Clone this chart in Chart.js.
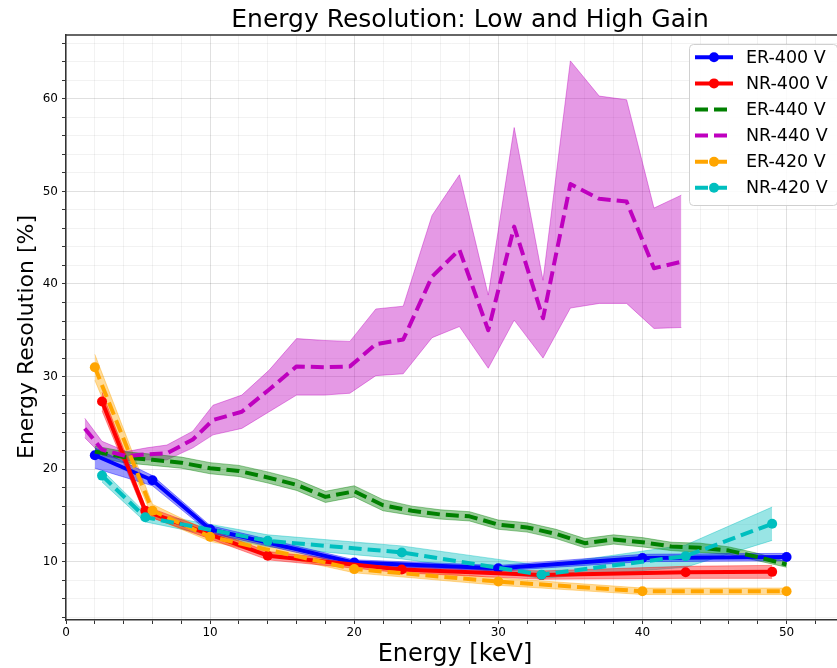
<!DOCTYPE html>
<html>
<head>
<meta charset="utf-8">
<script src="https://cdn.jsdelivr.net/npm/chart.js@4.4.1/dist/chart.umd.min.js"></script>
<style>
  html, body { margin: 0; padding: 0; background: #fff; }
  #wrap { width: 837px; height: 668px; }
</style>
</head>
<body>
<div id="wrap"><canvas id="chart" width="837" height="668"></canvas></div>
<script>
// energies (keV) for each series
const erX = [2, 6, 10, 20, 30, 40, 50];
const nrX = [2.5, 5.5, 14, 23.3, 33, 43, 49];
const er440X = [2, 4, 6, 8, 10, 12, 14, 16, 18, 20, 22, 24, 26, 28, 30, 32, 34, 36, 38, 40, 42, 44, 46, 48, 50];
const nr440X = [1.3, 2.5, 4.2, 5.6, 7.0, 8.8, 10.2, 12.2, 14.1, 16.0, 17.9, 19.7, 21.5, 23.4, 25.4, 27.3, 29.3, 31.1, 33.1, 35.0, 37.0, 38.9, 40.8, 42.7];

// resolution [%] and band edges
const er400 = [21.5, 18.8, 13.5, 9.9, 9.3, 10.4, 10.5];
const er400Lo = [20.1, 18.2, 13.1, 9.6, 9.0, 10.0, 10.1];
const er400Hi = [22.3, 19.3, 13.9, 10.2, 9.6, 10.8, 10.9];

const nr400 = [27.3, 15.5, 10.65, 9.15, 8.55, 8.85, 8.9];
const nr400Lo = [26.3, 15.0, 10.2, 8.8, 8.1, 8.2, 8.2];
const nr400Hi = [28.3, 16.0, 11.1, 9.5, 9.0, 9.5, 9.6];

const er440 = [21.9, 21.3, 21.0, 20.7, 20.1, 19.8, 19.1, 18.3, 17.0, 17.6, 16.1, 15.5, 15.1, 14.9, 14.0, 13.7, 13.0, 12.0, 12.4, 12.1, 11.65, 11.5, 11.2, 10.5, 9.7];
const er440Lo = [21.3, 20.7, 20.4, 20.1, 19.5, 19.2, 18.5, 17.7, 16.4, 17.0, 15.5, 15.0, 14.6, 14.4, 13.5, 13.2, 12.5, 11.5, 11.9, 11.6, 11.2, 11.0, 10.8, 10.1, 9.4];
const er440Hi = [22.5, 21.9, 21.6, 21.3, 20.7, 20.4, 19.7, 18.9, 17.6, 18.2, 16.7, 16.0, 15.6, 15.4, 14.5, 14.2, 13.5, 12.5, 12.9, 12.6, 12.1, 12.0, 11.6, 10.9, 10.0];

const nr440 = [24.4, 22.1, 21.4, 21.6, 21.7, 23.2, 25.3, 26.2, 28.6, 31.1, 31.0, 31.1, 33.5, 34.0, 40.8, 43.7, 35.0, 46.2, 36.3, 50.8, 49.2, 48.9, 41.7, 42.4];
const nr440Lo = [23.4, 21.5, 20.9, 21.0, 21.0, 22.3, 23.7, 24.4, 26.2, 28.0, 28.0, 28.2, 30.1, 30.3, 34.2, 35.4, 30.9, 36.1, 32.0, 37.4, 37.9, 37.9, 35.2, 35.3];
const nr440Hi = [25.5, 23.0, 21.9, 22.3, 22.6, 24.1, 26.9, 28.0, 30.7, 34.1, 33.9, 33.8, 37.3, 37.6, 47.4, 51.8, 38.8, 56.9, 40.4, 64.1, 60.3, 59.9, 48.2, 49.6];

const er420 = [31.0, 15.5, 12.7, 9.2, 7.85, 6.8, 6.8];
const er420Lo = [29.6, 14.8, 12.2, 8.8, 7.45, 6.45, 6.45];
const er420Hi = [32.4, 16.2, 13.2, 9.6, 8.25, 7.15, 7.15];

const nr420 = [19.3, 14.8, 12.25, 11.0, 8.6, 10.6, 14.1];
const nr420Lo = [18.6, 14.3, 11.6, 10.3, 8.2, 9.4, 12.3];
const nr420Hi = [19.9, 15.3, 12.9, 11.7, 9.6, 11.8, 15.9];

const xTicks = [0, 10, 20, 30, 40, 50];
const yTicks = [10, 20, 30, 40, 50, 60];

const FONT = "'DejaVu Sans', 'Liberation Sans', sans-serif";

const series = [
  { label: "ER-400 V", x: erX, y: er400, lo: er400Lo, hi: er400Hi, rgb: [0, 0, 255], dash: [], marker: true },
  { label: "NR-400 V", x: nrX, y: nr400, lo: nr400Lo, hi: nr400Hi, rgb: [255, 0, 0], dash: [], marker: true },
  { label: "ER-440 V", x: er440X, y: er440, lo: er440Lo, hi: er440Hi, rgb: [0, 128, 0], dash: [13, 6], marker: false },
  { label: "NR-440 V", x: nr440X, y: nr440, lo: nr440Lo, hi: nr440Hi, rgb: [191, 0, 191], dash: [13, 6], marker: false },
  { label: "ER-420 V", x: erX, y: er420, lo: er420Lo, hi: er420Hi, rgb: [255, 165, 0], dash: [13, 6], marker: true },
  { label: "NR-420 V", x: nrX, y: nr420, lo: nr420Lo, hi: nr420Hi, rgb: [0, 191, 191], dash: [13, 6], marker: true },
];

function pts(xs, ys) {
  return xs.map((x, i) => ({ x: x, y: ys[i] }));
}
function rgba(c, a) {
  return "rgba(" + c[0] + "," + c[1] + "," + c[2] + "," + a + ")";
}

const datasets = [];
series.forEach((s, k) => {
  const loIdx = datasets.length;
  datasets.push({
    data: pts(s.x, s.lo), borderColor: rgba(s.rgb, 0.4), borderWidth: 1,
    pointRadius: 0, fill: false, order: 20 + k, tension: 0,
  });
  datasets.push({
    data: pts(s.x, s.hi), borderColor: rgba(s.rgb, 0.4), borderWidth: 1,
    backgroundColor: rgba(s.rgb, 0.4), pointRadius: 0, fill: loIdx, order: 20 + k, tension: 0,
  });
});
series.forEach((s, k) => {
  datasets.push({
    label: s.label,
    data: pts(s.x, s.y),
    borderColor: rgba(s.rgb, 1),
    backgroundColor: rgba(s.rgb, 1),
    borderWidth: 4,
    borderDash: s.dash,
    borderJoinStyle: "round",
    pointRadius: s.marker ? 5 : 0,
    pointBorderWidth: 0,
    pointBackgroundColor: rgba(s.rgb, 1),
    fill: false,
    tension: 0,
    order: 6 - k,
  });
});

// title, axis labels, top spine and legend box like matplotlib
const framePlugin = {
  id: "frame",
  afterDraw(chart) {
    const ctx = chart.ctx;
    const a = chart.chartArea;
    ctx.save();
    ctx.strokeStyle = "#333";
    ctx.lineWidth = 1.5;
    ctx.beginPath();
    ctx.moveTo(a.left, a.top);
    ctx.lineTo(a.right, a.top);
    ctx.stroke();

    ctx.fillStyle = "#000";
    ctx.textAlign = "center";
    ctx.textBaseline = "middle";
    ctx.font = "25px " + FONT;
    ctx.fillText("Energy Resolution: Low and High Gain", 470, 20);
    ctx.font = "24px " + FONT;
    ctx.fillText("Energy [keV]", 455, 655);
    ctx.save();
    ctx.translate(27, 337);
    ctx.rotate(-Math.PI / 2);
    ctx.font = "22px " + FONT;
    ctx.fillText("Energy Resolution [%]", 0, 0);
    ctx.restore();

    // legend
    const bx = 689, by = 44, bw = 148, bh = 161, r = 4;
    ctx.fillStyle = "rgba(255,255,255,0.85)";
    ctx.strokeStyle = "#d0d0d0";
    ctx.lineWidth = 1;
    ctx.beginPath();
    ctx.roundRect(bx + 0.5, by + 0.5, bw, bh, r);
    ctx.fill();
    ctx.stroke();

    series.forEach((s, i) => {
      const y = 57.3 + i * 26.1;
      ctx.strokeStyle = rgba(s.rgb, 1);
      ctx.lineWidth = 4;
      ctx.setLineDash(s.dash);
      ctx.lineCap = "butt";
      ctx.beginPath();
      ctx.moveTo(695, y);
      ctx.lineTo(733, y);
      ctx.stroke();
      ctx.setLineDash([]);
      if (s.marker) {
        ctx.fillStyle = rgba(s.rgb, 1);
        ctx.beginPath();
        ctx.arc(714, y, 5, 0, Math.PI * 2);
        ctx.fill();
      }
      ctx.fillStyle = "#000";
      ctx.font = "17.5px " + FONT;
      ctx.textBaseline = "middle";
      ctx.textAlign = "left";
      ctx.fillText(s.label, 746, y + 1);
    });
    ctx.restore();
  }
};

const gridColor = (ctx) => {
  const v = ctx.tick ? ctx.tick.value : 0;
  return Math.abs(v % 10) < 1e-6 ? "rgba(0,0,0,0.12)" : "rgba(0,0,0,0.05)";
};

new Chart(document.getElementById("chart"), {
  type: "line",
  data: { datasets: datasets },
  options: {
    responsive: false,
    animation: false,
    devicePixelRatio: 1,
    layout: { autoPadding: false, padding: { top: 35, right: 0, left: 0, bottom: 0 } },
    plugins: {
      legend: { display: false },
      tooltip: { enabled: false },
      title: { display: false },
    },
    scales: {
      x: {
        type: "linear",
        min: 0,
        max: 53.5,
        afterFit(scale) { scale.height = 48; scale.paddingRight = 0; scale.paddingLeft = 0; },
        border: { display: true, color: "#333", width: 1.5 },
        grid: { color: gridColor, tickColor: "#333", tickLength: 4, lineWidth: 1 },
        ticks: {
          stepSize: 2,
          autoSkip: false,
          includeBounds: false,
          maxRotation: 0,
          padding: 2,
          color: "#000",
          font: { family: FONT, size: 12 },
          callback: (v) => (xTicks.includes(v) ? String(v) : ""),
        },
      },
      y: {
        type: "linear",
        min: 3.7,
        max: 66.9,
        afterFit(scale) { scale.width = 66; scale.paddingTop = 0; scale.paddingBottom = 0; },
        border: { display: true, color: "#333", width: 1.5 },
        grid: { color: gridColor, tickColor: "#333", tickLength: 4, lineWidth: 1 },
        ticks: {
          stepSize: 2,
          autoSkip: false,
          includeBounds: false,
          padding: 4,
          color: "#000",
          font: { family: FONT, size: 12 },
          callback: (v) => (yTicks.includes(v) ? String(v) : ""),
        },
      },
    },
  },
  plugins: [framePlugin],
});
</script>
</body>
</html>
